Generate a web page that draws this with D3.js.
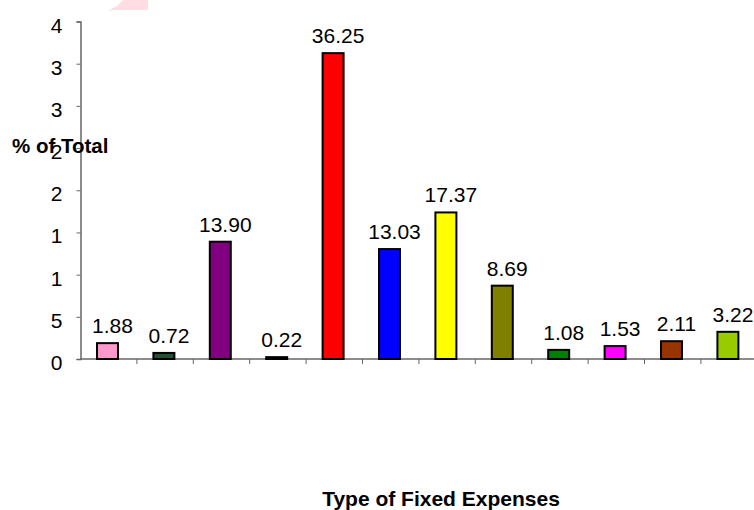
<!DOCTYPE html>
<html>
<head>
<meta charset="utf-8">
<script src="https://cdn.jsdelivr.net/npm/d3@7"></script>
<style>
  body { margin: 0; background: #fff; }
  svg { display: block; font-family: "Liberation Sans", Arial, sans-serif; }
</style>
</head>
<body>
<div id="chart"></div>
<script>
// data
var categories = ["E1", "E2", "E3", "E4", "E5", "E6", "E7", "E8", "E9", "E10", "E11", "E12"];
var values = [1.88, 0.72, 13.90, 0.22, 36.25, 13.03, 17.37, 8.69, 1.08, 1.53, 2.11, 3.22];
var barColors = ["#ff99cc", "#23502f", "#800080", "#000000", "#ff0000", "#0000ff",
                 "#ffff00", "#808000", "#008000", "#ff00ff", "#993300", "#99cc00"];
var yTicks = [0, 5, 10, 15, 20, 25, 30, 35, 40];
var yTickLabels = ["0", "5", "1", "1", "2", "2", "3", "3", "4"];

var width = 754, height = 510;
var x0 = 80.5, step = 56.4;

var svg = d3.select("#chart").append("svg")
    .attr("width", width)
    .attr("height", height);

// stray pink fragment at the top
svg.append("path")
    .attr("d", "M108,11 L113,8 L117,6 L120,3 L123,0 L148,0 L148,10 L114,10 Z")
    .attr("fill", "#ffdde2");

// bars sit a little left of the category centre
var x = d3.scaleBand()
    .domain(categories)
    .range([x0 - 1.2, x0 - 1.2 + step * categories.length])
    .paddingInner(0.628)
    .paddingOuter(0.314);

var y = d3.scaleLinear()
    .domain([0, 40])
    .range([359, 21.5]);

// y axis
var yAxis = svg.append("g")
    .attr("transform", "translate(" + x0 + ",0)")
    .call(d3.axisLeft(y)
        .tickValues(yTicks)
        .tickSize(4)
        .tickPadding(14)
        .tickFormat(function(d, i) { return yTickLabels[i]; }));
yAxis.select(".domain").attr("stroke", "#666").attr("stroke-width", 1.5);
yAxis.selectAll(".tick line").attr("stroke", "#666");
yAxis.selectAll(".tick text")
    .attr("dy", "0.5em")
    .style("font-size", "21px")
    .attr("fill", "#000");

// x axis (no labels, ticks between categories)
var xAxis = svg.append("g");
xAxis.append("line")
    .attr("x1", x0).attr("x2", width)
    .attr("y1", y(0)).attr("y2", y(0))
    .attr("stroke", "#666").attr("stroke-width", 1.5);
xAxis.selectAll("line.tick")
    .data(categories)
    .enter().append("line")
    .attr("class", "tick")
    .attr("x1", function(d, i) { return x0 + step * (i + 1); })
    .attr("x2", function(d, i) { return x0 + step * (i + 1); })
    .attr("y1", y(0)).attr("y2", y(0) + 5)
    .attr("stroke", "#666");

// bars
svg.selectAll("rect.bar")
    .data(values)
    .enter().append("rect")
    .attr("class", "bar")
    .attr("x", function(d, i) { return x(categories[i]); })
    .attr("width", x.bandwidth())
    .attr("y", function(d) { return y(d); })
    .attr("height", function(d) { return y(0) - y(d); })
    .attr("fill", function(d, i) { return barColors[i]; })
    .attr("stroke", "#000")
    .attr("stroke-width", 2);

// value labels
svg.selectAll("text.val")
    .data(values)
    .enter().append("text")
    .attr("class", "val")
    .attr("x", function(d, i) { return x(categories[i]) + x.bandwidth() / 2 + 5; })
    .attr("y", function(d) { return y(d) - 10; })
    .attr("text-anchor", "middle")
    .style("font-size", "21px")
    .text(function(d) { return d.toFixed(2); });

// axis titles
svg.append("text")
    .attr("x", 12).attr("y", 153)
    .style("font-size", "20.5px").style("font-weight", "bold")
    .text("% of Total");

svg.append("text")
    .attr("x", 441).attr("y", 506)
    .attr("text-anchor", "middle")
    .style("font-size", "21px").style("font-weight", "bold")
    .text("Type of Fixed Expenses");
</script>
</body>
</html>
